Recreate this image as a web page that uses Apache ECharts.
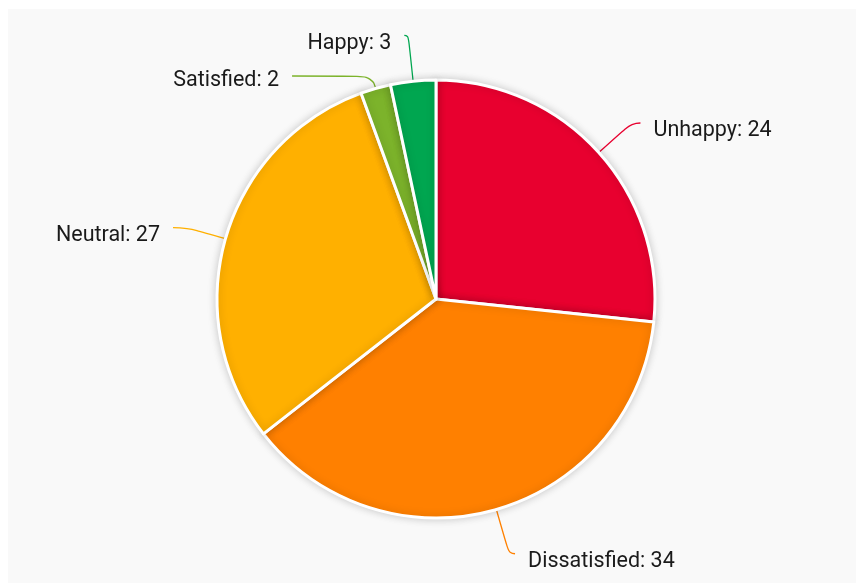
<!DOCTYPE html>
<html><head><meta charset="utf-8">
<script src="https://cdn.jsdelivr.net/npm/echarts@6/dist/echarts.min.js"></script>
<style>html,body{margin:0;padding:0;background:#fff}#c{width:858px;height:583px}</style>
</head><body><div id="c"></div>
<script>
const categories = ['Unhappy', 'Dissatisfied', 'Neutral', 'Satisfied', 'Happy'];
const values = [24, 34, 27, 2, 3];
const colors = ['#e8002f', '#ff8000', '#ffb000', '#7cb32b', '#00a650'];
const lineLen = [[44, 9], [46, 6], [40, 14], [13, 80], [46, 4]];
const labelShift = [8, 8, 8, 5, 8];

const chart = echarts.init(document.getElementById('c'));
chart.setOption({
  animation: false,
  graphic: [{type: 'rect', shape: {x: 8, y: 9, width: 848, height: 574}, style: {fill: '#f9f9f9'}, z: -10}],
  series: [{
    type: 'pie',
    center: [436, 299],
    radius: 219,
    startAngle: 90,
    clockwise: true,
    data: categories.map((c, i) => ({
      name: c, value: values[i], itemStyle: {color: colors[i]},
      labelLine: {length: lineLen[i][0], length2: lineLen[i][1]}
    })),
    itemStyle: {borderColor: '#fff', borderWidth: 3, shadowBlur: 8, shadowColor: 'rgba(0,0,0,0.18)'},
    label: {formatter: '{b}: {c}', color: '#1a1a1a', fontSize: 21.5, fontFamily: 'Roboto', distanceToLabelLine: 13},
    labelLine: {smooth: 0.5, lineStyle: {width: 1.3}},
    labelLayout: function (p) { return {dy: labelShift[p.dataIndex]}; },
    emphasis: {disabled: true}
  }]
});
</script></body></html>
